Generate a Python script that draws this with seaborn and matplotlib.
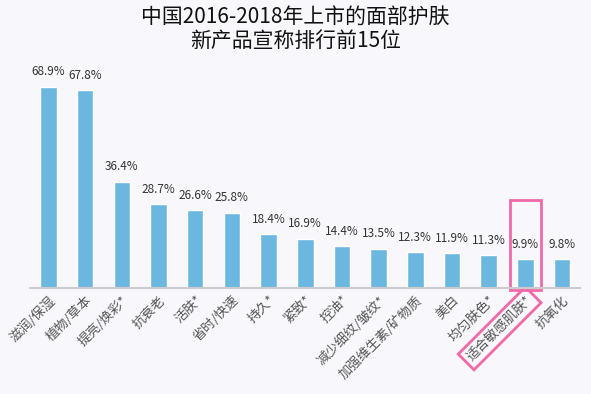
import matplotlib.pyplot as plt
import seaborn as sns
from matplotlib.patches import Rectangle

categories = ['滋润/保湿', '植物/草本', '提亮/焕彩*', '抗衰老', '活肤*', '省时/快速', '持久*', '紧致*',
              '控油*', '减少细纹/皱纹*', '加强维生素/矿物质', '美白', '均匀肤色*', '适合敏感肌肤*', '抗氧化']
values = [68.9, 67.8, 36.4, 28.7, 26.6, 25.8, 18.4, 16.9, 14.4, 13.5, 12.3, 11.9, 11.3, 9.9, 9.8]
highlight = '适合敏感肌肤*'

sns.set_style('white')
plt.rcParams['font.family'] = ['Noto Sans CJK SC', 'DejaVu Sans']

fig = plt.figure(figsize=(5.91, 3.94), dpi=100)
fig.patch.set_facecolor('#f8f7fb')
ax = fig.add_axes([0.051, 0.269, 0.931, 0.56])
ax.set_facecolor('none')

sns.barplot(x=categories, y=values, color='#6cb7e0', width=0.45, saturation=1, ax=ax)

for i, v in enumerate(values):
    ax.text(i, v + 2.8, f'{v}%', ha='center', va='bottom', fontsize=8.5, color='#333333')

ax.set_xlim(-0.5, 14.5)
ax.set_ylim(0, 75.5)
ax.set_yticks([])
ax.set_ylabel('')
for s in ['top', 'left', 'right']:
    ax.spines[s].set_visible(False)
ax.spines['bottom'].set_color('#cccccc')
ax.spines['bottom'].set_linewidth(1.5)
ax.tick_params(axis='x', length=0, pad=4)
ax.set_xticks(range(len(categories)))
ax.set_xticklabels(categories, rotation=45, ha='right', rotation_mode='anchor',
                   fontsize=9.5, color='#555555')

hi = categories.index(highlight)
ax.add_patch(Rectangle((hi - 0.42, -0.8), 0.86, 31, fill=False, edgecolor='#f06aa8',
                       linewidth=2, clip_on=False))
ax.get_xticklabels()[hi].set_bbox(dict(boxstyle='square,pad=0.35', facecolor='none',
                                       edgecolor='#f06aa8', linewidth=2))

fig.text(0.5, 0.985, '中国2016-2018年上市的面部护肤\n新产品宣称排行前15位', ha='center', va='top',
         fontsize=15, color='#111111', linespacing=1.1)

fig.savefig('out.png', dpi=100, facecolor=fig.get_facecolor())
